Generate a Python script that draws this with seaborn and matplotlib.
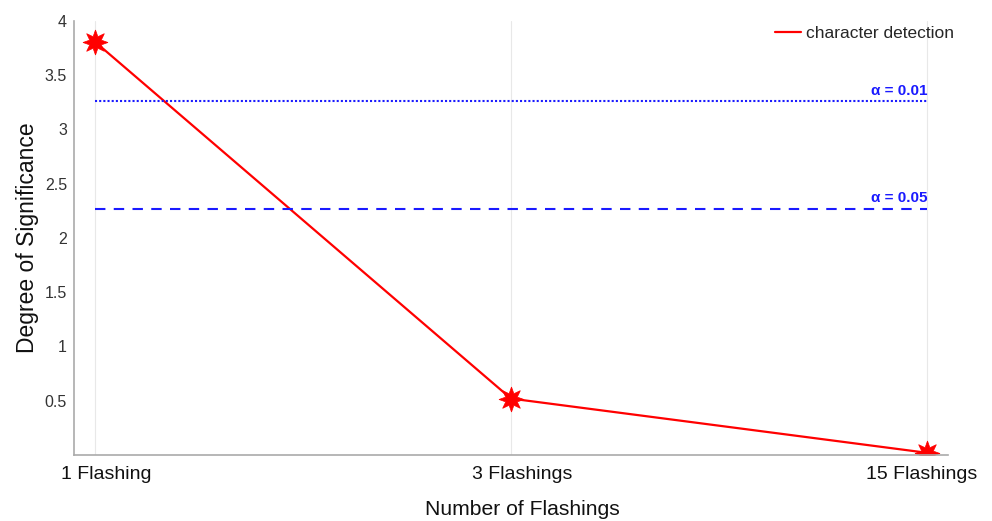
import matplotlib
matplotlib.use("Agg")
import matplotlib.pyplot as plt
import matplotlib.transforms as mtransforms
import seaborn as sns
import pandas as pd
import numpy as np

categories = ["1 Flashing", "3 Flashings", "15 Flashings"]
significance = [3.81, 0.52, 0.02]
alpha_levels = ["\u03b1 = 0.01", "\u03b1 = 0.05"]
alpha_values = [3.26, 2.27]
alpha_styles = [(0, (1, 1)), (0, (5, 4))]
yticks = [0.5, 1, 1.5, 2, 2.5, 3, 3.5, 4]

sns.set_theme(style="white")
plt.rcParams["font.family"] = ["Liberation Sans", "DejaVu Sans"]

df = pd.DataFrame({"pos": np.arange(len(categories)), "sig": significance,
                   "series": "character detection"})

fig = plt.figure(figsize=(9.92, 5.21), dpi=100)
ax = fig.add_axes([0.0746, 0.1267, 0.881, 0.8330])

for p in df["pos"]:
    ax.axvline(p, color="#e8e8e8", lw=0.8, zorder=0)

sns.lineplot(data=df, x="pos", y="sig", hue="series", palette=["#ff0000"],
             marker=(8, 1, 0), markersize=18, markeredgecolor="#ff0000",
             markeredgewidth=0.5, lw=1.6, ax=ax)

for lab, val, ls in zip(alpha_levels, alpha_values, alpha_styles):
    ax.plot([0, len(categories) - 1], [val, val], color="#1a1aff", lw=1.5, ls=ls, zorder=2)
    ax.text(len(categories) - 1, val + 0.03, lab, color="#1a1aff", fontsize=11,
            fontweight="bold", ha="right", va="bottom")

ax.set_xlim(-0.05, 2.05)
ax.set_ylim(0, 4)
ax.set_xticks(df["pos"])
ax.set_xticklabels(categories, fontsize=14, color="#111111")
ax.set_yticks(yticks)
ax.set_yticklabels([f"{t:g}" for t in yticks], fontsize=11.5, color="#333333")
ax.tick_params(axis="both", direction="in", length=5, color="#999999", width=0.8)
ax.tick_params(axis="x", pad=8)
ax.tick_params(axis="y", pad=5)

# nudge the category labels sideways (pixels), keeping the last one inside the figure
label_shift_px = [11, 11, -6]
for lbl, dx in zip(ax.get_xticklabels(), label_shift_px):
    lbl.set_transform(lbl.get_transform() +
                      mtransforms.ScaledTranslation(dx / fig.dpi, 0, fig.dpi_scale_trans))

for s in ["top", "right"]:
    ax.spines[s].set_visible(False)
for s in ["left", "bottom"]:
    ax.spines[s].set_color("#aaaaaa")
    ax.spines[s].set_linewidth(1.2)

ax.set_xlabel("Number of Flashings", fontsize=15.2, color="#111111", labelpad=12)
ax.xaxis.label.set_x(0.5126)
ax.set_ylabel("Degree of Significance", fontsize=16.5, color="#111111", labelpad=4)

leg = ax.legend(loc="upper right", frameon=False, fontsize=12.5, handlelength=1.5,
                handletextpad=0.3, bbox_to_anchor=(1.025, 1.025))
for h in leg.get_lines():
    h.set_marker("")

fig.savefig("out.png", dpi=100)
